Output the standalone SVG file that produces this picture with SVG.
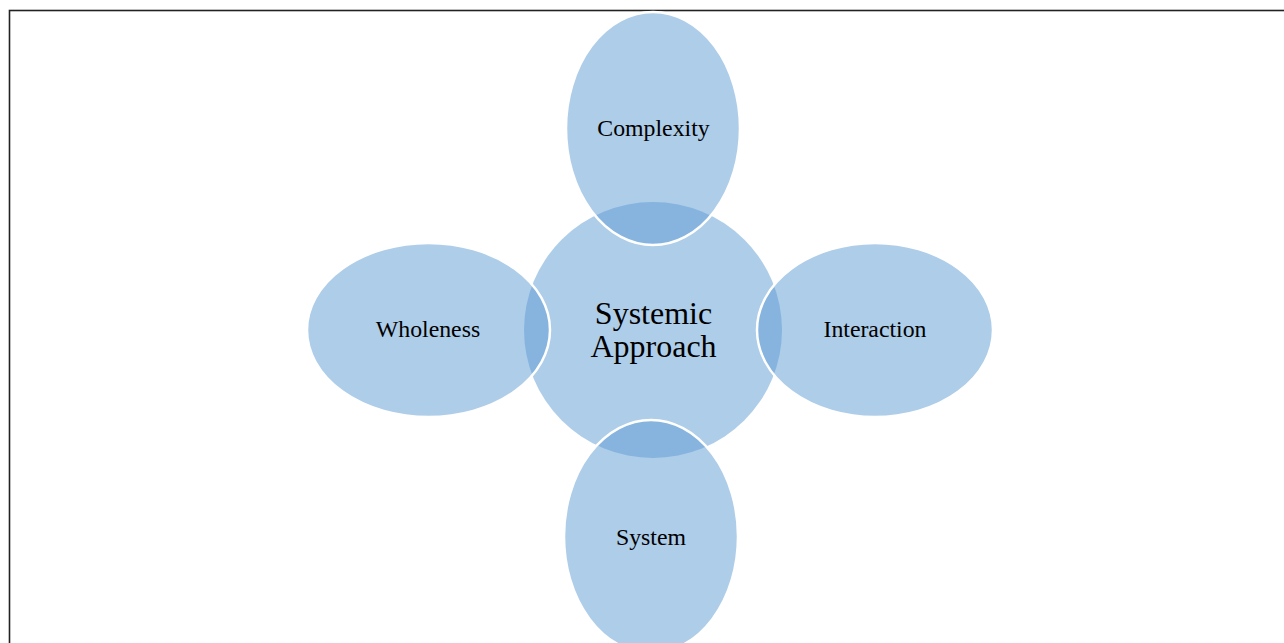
<svg xmlns="http://www.w3.org/2000/svg" width="1284" height="643" viewBox="0 0 1284 643">
<style>
.bubble{fill:#5d9bd3;fill-opacity:0.5;stroke:#ffffff;stroke-width:2.5}
.center{fill:#5d9bd3;fill-opacity:0.5;stroke:none}
.lbl{font-family:"Liberation Serif","Times New Roman",serif;font-size:23.8px;fill:#000;text-anchor:middle}
.big{font-family:"Liberation Serif","Times New Roman",serif;font-size:32px;fill:#000;text-anchor:middle}
</style>
<rect x="0" y="0" width="1284" height="643" fill="#ffffff"/>
<rect x="9.5" y="10.5" width="1300" height="660" fill="none" stroke="#222222" stroke-width="1.6"/>
<g id="node-center">
<ellipse class="center" cx="653" cy="330" rx="129" ry="128"/>
</g>
<g id="node-complexity">
<ellipse class="bubble" cx="653" cy="128.5" rx="87" ry="116.5"/>
</g>
<g id="node-interaction">
<ellipse class="bubble" cx="875" cy="330" rx="118" ry="87"/>
</g>
<g id="node-system">
<ellipse class="bubble" cx="651" cy="536.5" rx="87" ry="116.5"/>
</g>
<g id="node-wholeness">
<ellipse class="bubble" cx="428.5" cy="330" rx="121.5" ry="87"/>
</g>
<g id="labels">
<text class="big" x="653.5" y="323.5">Systemic</text>
<text class="big" x="653.5" y="356.5">Approach</text>
<text class="lbl" x="653.5" y="136">Complexity</text>
<text class="lbl" x="875" y="337">Interaction</text>
<text class="lbl" x="651" y="545">System</text>
<text class="lbl" x="428" y="337">Wholeness</text>
</g>
<g id="connectors"></g>
</svg>
